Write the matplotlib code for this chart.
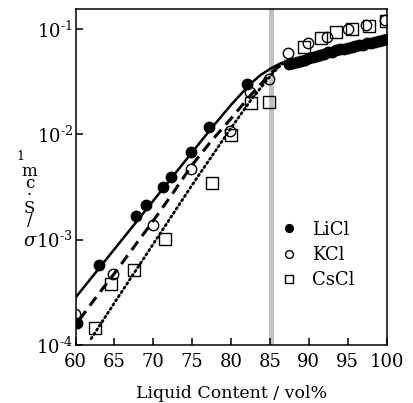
import matplotlib
matplotlib.use("Agg")
import matplotlib.pyplot as plt
import numpy as np

plt.rcParams['font.family'] = 'DejaVu Serif'
plt.rcParams['mathtext.fontset'] = 'dejavuserif'

# measured points
licl_x = [60.2, 63.0, 67.8, 69.1, 71.2, 72.3, 74.9, 77.1, 82.0,
          87.5, 88.0, 88.5, 89.0, 89.5, 90.0, 90.5, 91.0, 91.5, 92.0, 92.5,
          93.0, 93.5, 94.0, 94.5, 95.0, 95.5, 96.0, 96.5, 97.0, 97.5, 98.0,
          98.5, 99.0, 99.5, 100.0]
licl_y = [1.6e-4, 5.7e-4, 1.67e-3, 2.13e-3, 3.14e-3, 3.9e-3, 6.8e-3, 1.18e-2, 3.0e-2,
          0.047, 0.048, 0.049, 0.050, 0.051, 0.053, 0.054, 0.055, 0.057, 0.058, 0.060,
          0.061, 0.063, 0.064, 0.065, 0.066, 0.067, 0.069, 0.070, 0.071, 0.073, 0.074,
          0.075, 0.077, 0.079, 0.081]

kcl_x = [59.9, 64.85, 70.0, 74.8, 79.8, 82.4, 84.85, 87.3, 89.85, 92.3, 95.1, 97.4, 99.8]
kcl_y = [1.95e-4, 4.7e-4, 1.37e-3, 4.65e-3, 1.07e-2, 2.5e-2, 3.33e-2, 0.0588, 0.073,
         0.0845, 0.100, 0.109, 0.121]

cscl_x = [62.5, 64.55, 67.55, 71.55, 77.5, 80.0, 82.55, 84.9, 89.4, 91.6, 93.5, 95.6, 97.8, 99.9]
cscl_y = [1.44e-4, 3.76e-4, 5.1e-4, 1.01e-3, 3.42e-3, 9.9e-3, 1.98e-2, 2.04e-2, 0.068,
          0.082, 0.093, 0.099, 0.107, 0.120]

# fitted curves (log10 sigma)
fit_licl_x = [60, 62.5, 65, 67.5, 70, 72.5, 75, 77.5, 80, 82.5, 83.75, 85, 86.25, 87.5]
fit_licl_log = [-3.55, -3.32, -3.09, -2.86, -2.63, -2.40, -2.17, -1.94, -1.72, -1.52,
                -1.44, -1.38, -1.33, -1.30]
fit_kcl_x = [60.5, 62.5, 65, 67.5, 70, 72.5, 75, 77.5, 80, 82.5, 85, 86.0, 87.0]
fit_kcl_log = [-3.76, -3.56, -3.32, -3.07, -2.82, -2.56, -2.29, -2.06, -1.85, -1.63,
               -1.43, -1.36, -1.30]
fit_cscl_x = [62, 65, 67.5, 70, 72.5, 75, 77.5, 80, 82.5, 85, 86.0, 87.0]
fit_cscl_log = [-3.94, -3.60, -3.32, -3.04, -2.76, -2.48, -2.21, -1.94, -1.68, -1.45,
                -1.37, -1.31]

threshold = 85.1
yticks = [1e-4, 1e-3, 1e-2, 1e-1]
ytick_labels = [r'$10^{\mathrm{‐4}}$', r'$10^{\mathrm{‐3}}$',
                r'$10^{\mathrm{‐2}}$', r'$10^{\mathrm{‐1}}$']

fig = plt.figure(figsize=(4.13, 4.03), dpi=100)
ax = fig.add_axes([0.183, 0.144, 0.753, 0.833])

ax.axvline(threshold, color='#c0c0c0', lw=3.6, zorder=1)

ax.plot(fit_licl_x, 10 ** np.array(fit_licl_log), '-', color='black', lw=1.8, zorder=2)
ax.plot(fit_kcl_x, 10 ** np.array(fit_kcl_log), '--', color='black', lw=2.2,
        dashes=(3.5, 2.2), zorder=2)
ax.plot(fit_cscl_x, 10 ** np.array(fit_cscl_log), ':', color='black', lw=2.0,
        dashes=(0.6, 1.2), dash_capstyle='round', zorder=2)

ax.plot(licl_x, licl_y, 'o', color='black', ms=7.5, ls='none', zorder=3, label='LiCl')
ax.plot(kcl_x, kcl_y, 'o', mfc='none', mec='black', mew=1.0, ms=7.5, ls='none',
        zorder=3, label='KCl')
ax.plot(cscl_x, cscl_y, 's', mfc='none', mec='black', mew=1.0, ms=8, ls='none',
        zorder=3, label='CsCl')

ax.set_yscale('log')
ax.set_xlim(60, 100)
ax.set_ylim(1e-4, 0.1538)
ax.set_xticks([60, 65, 70, 75, 80, 85, 90, 95, 100])
ax.set_yticks(yticks)
ax.set_yticklabels(ytick_labels)
ax.yaxis.set_minor_locator(matplotlib.ticker.NullLocator())
ax.tick_params(direction='in', length=5, width=1.1, labelsize=13, pad=2)
ax.tick_params(axis='x', pad=6)
ax.tick_params(top=False, right=False)
for s in ax.spines.values():
    s.set_linewidth(1.1)

ax.set_xlabel('Liquid Content / vol%', fontsize=12.5, labelpad=10)

leg = ax.legend(loc='center left', bbox_to_anchor=(0.615, 0.268), frameon=False,
                fontsize=13, handlelength=0.6, handletextpad=1.0,
                labelspacing=0.4, markerscale=0.75)

# stacked y label glyphs
fig.text(20.7 / 413, 1 - 157 / 403, '1', fontsize=9, ha='center', va='center')
fig.text(29.5 / 413, 1 - 196 / 403, 'm\nc\n·\nS\n/', fontsize=12, ha='center',
         va='center', linespacing=0.62)
fig.text(30 / 413, 1 - 241 / 403, 'σ', fontsize=13, style='italic',
         ha='center', va='center')

fig.savefig('out.png', dpi=100)
